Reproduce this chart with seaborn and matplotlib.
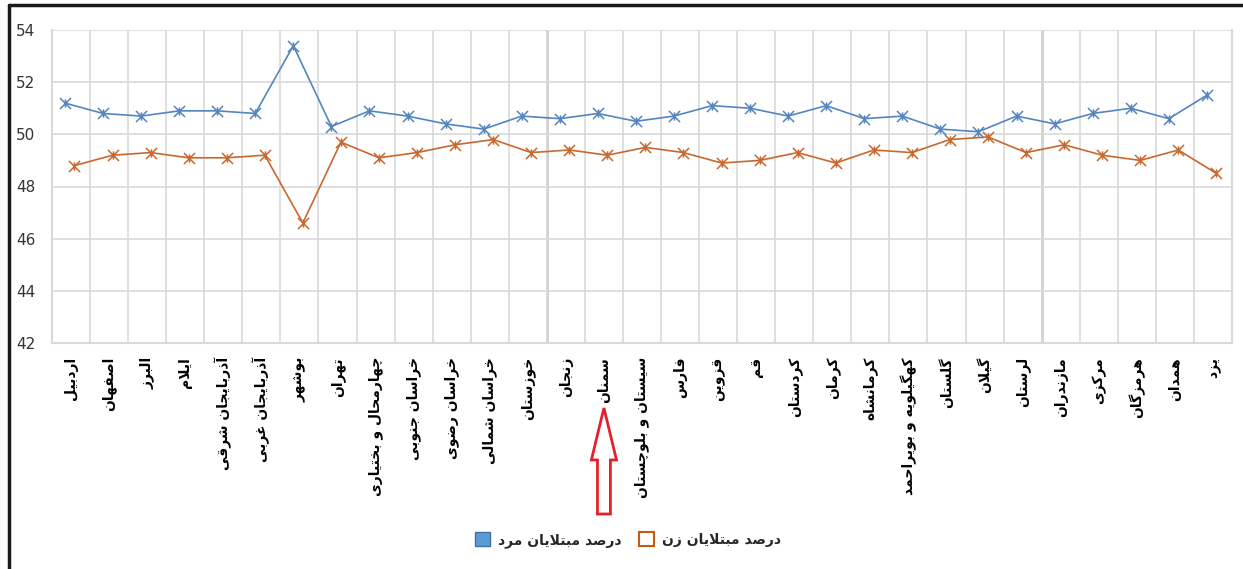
import unicodedata
import numpy as np
import pandas as pd
import matplotlib
matplotlib.use("Agg")
import matplotlib.pyplot as plt
import matplotlib.transforms as mtransforms
import seaborn as sns
from matplotlib.path import Path
from matplotlib.patches import Patch, Polygon
from matplotlib.lines import Line2D


# Data
provinces = [
    "اردبیل", "اصفهان", "البرز", "ایلام", "آذربایجان شرقی", "آذربایجان غربی",
    "بوشهر", "تهران", "چهارمحال و بختیاری", "خراسان جنوبی", "خراسان رضوی",
    "خراسان شمالی", "خوزستان", "زنجان", "سمنان", "سیستان و بلوچستان", "فارس",
    "قزوین", "قم", "کردستان", "کرمان", "کرمانشاه", "کهگیلویه و بویراحمد",
    "گلستان", "گیلان", "لرستان", "مازندران", "مرکزی", "هرمزگان", "همدان", "یزد",
]
male_pct = [51.2, 50.8, 50.7, 50.9, 50.9, 50.8, 53.4, 50.3, 50.9, 50.7, 50.4,
            50.2, 50.7, 50.6, 50.8, 50.5, 50.7, 51.1, 51.0, 50.7, 51.1, 50.6,
            50.7, 50.2, 50.1, 50.7, 50.4, 50.8, 51.0, 50.6, 51.5]
female_pct = [48.8, 49.2, 49.3, 49.1, 49.1, 49.2, 46.6, 49.7, 49.1, 49.3, 49.6,
              49.8, 49.3, 49.4, 49.2, 49.5, 49.3, 48.9, 49.0, 49.3, 48.9, 49.4,
              49.3, 49.8, 49.9, 49.3, 49.6, 49.2, 49.0, 49.4, 48.5]
male_label = "درصد مبتلایان مرد"
female_label = "درصد مبتلایان زن"
y_ticks = [42, 44, 46, 48, 50, 52, 54]
highlight = "سمنان"

BLUE = "#5585BE"
ORANGE = "#C8682E"
W, H = 1243, 569


# matplotlib has no Arabic shaping, so map letters to presentation forms
def _forms(ch):
    name = unicodedata.name(ch, "")
    out = {}
    if name.startswith("ARABIC LETTER"):
        for k in ("ISOLATED", "FINAL", "INITIAL", "MEDIAL"):
            try:
                out[k] = unicodedata.lookup(f"{name} {k} FORM")
            except KeyError:
                pass
    return out


LAM_ALEF = {"ا": "ARABIC LIGATURE LAM WITH ALEF",
            "آ": "ARABIC LIGATURE LAM WITH ALEF WITH MADDA ABOVE"}


def fa(text):
    res = []
    i, n = 0, len(text)
    while i < n:
        ch = text[i]
        f = _forms(ch)
        if not f:
            res.append(ch)
            i += 1
            continue
        prev = _forms(text[i - 1]) if i > 0 else {}
        joined_prev = "MEDIAL" in prev and "FINAL" in f
        if ch == "ل" and i + 1 < n and text[i + 1] in LAM_ALEF:
            suffix = " FINAL FORM" if joined_prev else " ISOLATED FORM"
            res.append(unicodedata.lookup(LAM_ALEF[text[i + 1]] + suffix))
            i += 2
            continue
        nxt = _forms(text[i + 1]) if i + 1 < n else {}
        joined_next = "INITIAL" in f and "FINAL" in nxt
        if joined_prev and joined_next:
            form = "MEDIAL"
        elif joined_prev:
            form = "FINAL"
        elif joined_next:
            form = "INITIAL"
        else:
            form = "ISOLATED"
        res.append(f.get(form, ch))
        i += 1
    return "".join(reversed(res))


sns.set_theme(style="white")
plt.rcParams["font.family"] = ["DejaVu Sans"]

idx = np.arange(len(provinces))
df = pd.DataFrame({"idx": idx, "male": male_pct, "female": female_pct})

# excel "star" marker: an x with a short vertical bar
star = Path([(-1, -1), (1, 1), (-1, 1), (1, -1), (0, -0.75), (0, 0.75)],
            [Path.MOVETO, Path.LINETO, Path.MOVETO, Path.LINETO, Path.MOVETO, Path.LINETO])

fig = plt.figure(figsize=(W / 100, H / 100), dpi=100)
ax = fig.add_axes([52 / W, 1 - 343 / H, (1232 - 52) / W, (343 - 30) / H])

sns.lineplot(x=df["idx"] - 0.16, y=df["male"], ax=ax, color=BLUE, linewidth=1.2,
             marker=star, markersize=8, markeredgecolor=BLUE, markeredgewidth=1.1)
sns.lineplot(x=df["idx"] + 0.09, y=df["female"], ax=ax, color=ORANGE, linewidth=1.2,
             marker=star, markersize=8, markeredgecolor=ORANGE, markeredgewidth=1.1)

ax.set_xlim(-0.5, len(provinces) - 0.5)
ax.set_ylim(y_ticks[0], y_ticks[-1])
ax.set_yticks(y_ticks)
ax.set_xticks(idx)
ax.set_xticklabels([fa(p) for p in provinces], rotation=90, fontsize=10,
                   fontweight="bold", color="black")
ax.set_xticks(np.arange(-0.5, len(provinces), 1), minor=True)
ax.tick_params(axis="y", length=0, pad=12, labelsize=11, labelcolor="#333333")
ax.tick_params(axis="x", which="both", length=0, pad=10)
ax.set_xlabel("")
ax.set_ylabel("")

ax.grid(False)
ax.grid(True, axis="y", which="major", color="#D9D9D9", linewidth=1.2)
ax.grid(True, axis="x", which="minor", color="#D9D9D9", linewidth=1.2)
ax.set_axisbelow(True)
for b in (12.5, 25.5):
    ax.axvline(b, color="#CCCCCC", linewidth=2, zorder=0.5)
ax.spines["top"].set_visible(False)
for side in ("left", "right", "bottom"):
    ax.spines[side].set_color("#D9D9D9")
    ax.spines[side].set_linewidth(1.5)

# hollow red arrow under the highlighted province
cx = provinces.index(highlight)
trans = mtransforms.blended_transform_factory(ax.transData, fig.transFigure)
pts = [(cx, 408), (cx + 0.33, 460), (cx + 0.17, 460), (cx + 0.17, 514),
       (cx - 0.17, 514), (cx - 0.17, 460), (cx - 0.33, 460)]
arrow = Polygon([(x, 1 - y / H) for x, y in pts], closed=True, transform=trans,
                facecolor="white", edgecolor="#E5202A", linewidth=2, clip_on=False)
fig.add_artist(arrow)

handles = [Patch(facecolor="#5B9BD5", edgecolor="#41719C", linewidth=1),
           Patch(facecolor="white", edgecolor="#C55A11", linewidth=1.5)]
fig.legend(handles, [fa(male_label), fa(female_label)], loc="center",
           bbox_to_anchor=(628 / W, 1 - 540 / H), ncol=2, frameon=False,
           prop={"weight": "bold", "size": 10}, handlelength=1.1, handleheight=1.1,
           handletextpad=0.6, columnspacing=1.2)

# outer frame (top and left edges only visible)
fig.add_artist(Line2D([9 / W, 9 / W], [0, 1 - 5 / H], color="#1A1A1A", linewidth=2.5))
fig.add_artist(Line2D([9 / W, 1], [1 - 5 / H, 1 - 5 / H], color="#1A1A1A", linewidth=2.5))

fig.savefig("out.png", dpi=100, facecolor="white")
